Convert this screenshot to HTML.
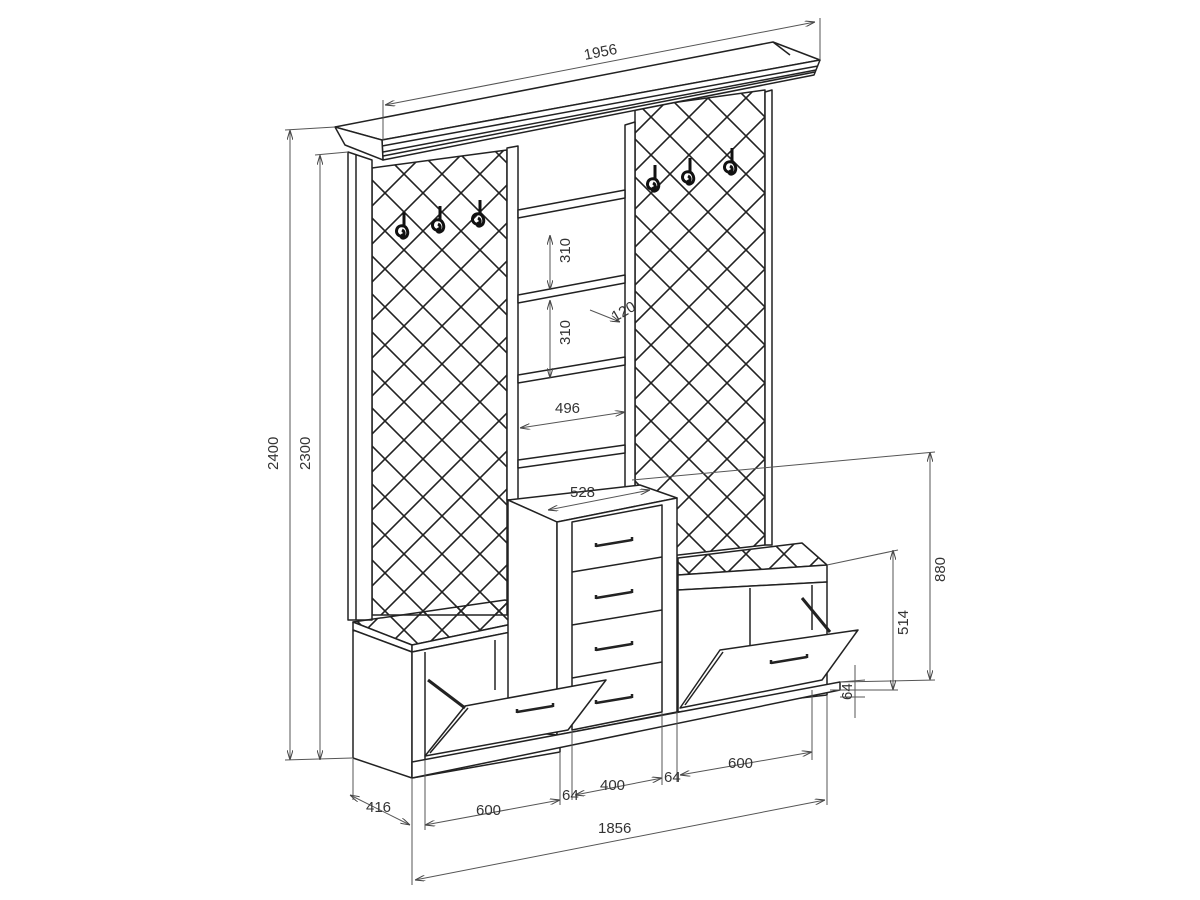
<!DOCTYPE html>
<html><head><style>body{margin:0;background:#fff}svg{display:block}text{font-family:"Liberation Sans",sans-serif;font-size:15px;fill:#333}</style></head><body>
<svg width="1200" height="900" viewBox="0 0 1200 900" xmlns="http://www.w3.org/2000/svg">
<defs>
<pattern id="lat" width="38" height="38" patternUnits="userSpaceOnUse" patternTransform="translate(5,3)">
<path d="M0 0L38 38M38 0L0 38" stroke="#222" stroke-width="1.6"/>
</pattern>
<marker id="a" markerWidth="10" markerHeight="6" refX="10" refY="3" orient="auto-start-reverse"><path d="M0 0L10 3L0 6" fill="none" stroke="#444" stroke-width="1"/></marker>
<g id="hook"><path d="M0 0v14 M0 14c-8 -2 -10 8 -4 10 c4 2 6 -4 2 -6 M0 14c4 2 6 10 0 12 c-4 1 -3 -4 0 -3" fill="none" stroke="#111" stroke-width="3"/></g>
</defs>
<g fill="none" stroke="#222" stroke-width="1.5" stroke-linejoin="round">
<!-- lattice panels -->
<polygon points="372,168 507,150 507,615 372,615" fill="url(#lat)"/>
<polygon points="635,108 765,90 765,545 635,560" fill="url(#lat)"/>
<!-- posts -->
<polygon points="348,152 372,160 372,620 348,620" fill="#fff"/>
<line x1="356" y1="155" x2="356" y2="620"/>
<polygon points="507,148 518,146 518,500 507,500" fill="#fff"/>
<polygon points="625,125 635,122 635,555 625,555" fill="#fff"/>
<polygon points="765,92 772,90 772,545 765,545" fill="#fff"/>
<!-- shelves -->
<g fill="#fff">
<polygon points="518,210 625,190 625,198 518,218"/>
<polygon points="518,295 625,275 625,283 518,303"/>
<polygon points="518,375 625,357 625,365 518,383"/>
<polygon points="518,460 625,445 625,453 518,468"/>
</g>
<!-- cornice -->
<polygon points="335,127 773,42 820,60 382,140" fill="#fff"/>
<polygon points="382,140 820,60 814,75 383,160" fill="#fff"/>
<line x1="382" y1="146" x2="818" y2="66"/><line x1="383" y1="152" x2="816" y2="70"/><line x1="383" y1="156" x2="815" y2="72"/>
<polygon points="335,127 382,140 383,160 345,145" fill="#fff"/>
<line x1="773" y1="42" x2="790" y2="55"/>
<!-- left bench -->
<polygon points="353,622 505,600 560,614 412,645" fill="url(#lat)"/>
<polygon points="353,622 412,645 412,652 353,630" fill="#fff"/>
<polygon points="412,645 560,614 560,622 412,652" fill="#fff"/>
<polygon points="353,630 412,652 412,778 353,758" fill="#fff"/>
<polygon points="412,652 560,622 560,752 412,778" fill="#fff"/>
<line x1="425" y1="652" x2="425" y2="760"/>
<line x1="495" y1="640" x2="495" y2="690"/>
<line x1="545" y1="628" x2="545" y2="690"/>
<!-- chest -->
<polygon points="508,500 640,485 677,498 557,522" fill="#fff"/>
<polygon points="508,500 557,522 557,735 508,730" fill="#fff"/>
<polygon points="557,522 677,498 677,712 557,735" fill="#fff"/>
<polygon points="572,522 662,505 662,712 572,730" fill="#fff"/>
<line x1="572" y1="572" x2="662" y2="557"/><line x1="572" y1="625" x2="662" y2="610"/><line x1="572" y1="678" x2="662" y2="662"/>
<!-- right bench -->
<polygon points="678,558 802,543 827,565 678,575" fill="url(#lat)"/>
<polygon points="678,575 827,565 827,582 678,590" fill="#fff"/>
<polygon points="678,590 827,582 827,695 678,712" fill="#fff"/>
<line x1="750" y1="588" x2="750" y2="645"/><line x1="812" y1="585" x2="812" y2="630"/>
<!-- plinth -->
<polygon points="412,762 840,682 840,690 412,778" fill="#fff"/>
<!-- flaps -->
<polygon points="425,756 465,706 606,680 568,730" fill="#fff"/>
<line x1="430" y1="753" x2="468" y2="708"/>
<line x1="428" y1="680" x2="465" y2="708" stroke-width="3"/>
<polygon points="680,708 720,650 858,630 822,680" fill="#fff"/>
<line x1="685" y1="705" x2="723" y2="652"/>
<line x1="802" y1="598" x2="830" y2="632" stroke-width="3"/>
<!-- handles -->
<g stroke-width="2.5">
<path d="M596 546l36 -6 M596 543v4 M632 537v4"/>
<path d="M596 598l36 -6 M596 595v4 M632 589v4"/>
<path d="M596 650l36 -6 M596 647v4 M632 641v4"/>
<path d="M596 703l36 -6 M596 700v4 M632 694v4"/>
<path d="M517 712l36 -6 M517 709v4 M553 703v4"/>
<path d="M771 663l36 -6 M771 660v4 M807 654v4"/>
</g>
</g>
<!-- hooks -->
<use href="#hook" x="404" y="212"/><use href="#hook" x="440" y="206"/><use href="#hook" x="480" y="200"/>
<use href="#hook" x="655" y="165"/><use href="#hook" x="690" y="158"/><use href="#hook" x="732" y="148"/>
<!-- dimensions -->
<g stroke="#555" stroke-width="1" fill="none">
<line x1="385" y1="105" x2="815" y2="22" marker-start="url(#a)" marker-end="url(#a)"/>
<line x1="383" y1="140" x2="383" y2="100"/><line x1="820" y1="60" x2="820" y2="18"/>
<line x1="290" y1="130" x2="290" y2="760" marker-start="url(#a)" marker-end="url(#a)"/>
<line x1="285" y1="130" x2="335" y2="127"/><line x1="285" y1="760" x2="352" y2="758"/>
<line x1="320" y1="155" x2="320" y2="760" marker-start="url(#a)" marker-end="url(#a)"/>
<line x1="315" y1="155" x2="348" y2="152"/>
<line x1="930" y1="452" x2="930" y2="680" marker-start="url(#a)" marker-end="url(#a)"/>
<line x1="632" y1="480" x2="935" y2="452"/><line x1="840" y1="682" x2="935" y2="680"/>
<line x1="893" y1="550" x2="893" y2="690" marker-start="url(#a)" marker-end="url(#a)"/>
<line x1="827" y1="565" x2="898" y2="550"/><line x1="830" y1="690" x2="898" y2="690"/>
<line x1="855" y1="665" x2="855" y2="718"/><line x1="840" y1="682" x2="865" y2="680"/><line x1="840" y1="697" x2="865" y2="697"/>
<line x1="550" y1="235" x2="550" y2="290" marker-start="url(#a)" marker-end="url(#a)"/>
<line x1="550" y1="300" x2="550" y2="378" marker-start="url(#a)" marker-end="url(#a)"/>
<line x1="520" y1="428" x2="625" y2="412" marker-start="url(#a)" marker-end="url(#a)"/>
<line x1="590" y1="310" x2="620" y2="322" marker-end="url(#a)"/>
<line x1="548" y1="510" x2="650" y2="490" marker-start="url(#a)" marker-end="url(#a)"/>
<line x1="425" y1="825" x2="560" y2="800" marker-start="url(#a)" marker-end="url(#a)"/>
<line x1="575" y1="795" x2="662" y2="778" marker-start="url(#a)" marker-end="url(#a)"/>
<line x1="680" y1="775" x2="812" y2="752" marker-start="url(#a)" marker-end="url(#a)"/>
<line x1="415" y1="880" x2="825" y2="800" marker-start="url(#a)" marker-end="url(#a)"/>
<line x1="350" y1="795" x2="410" y2="825" marker-start="url(#a)" marker-end="url(#a)"/>
<line x1="412" y1="778" x2="412" y2="885"/><line x1="425" y1="760" x2="425" y2="830"/>
<line x1="560" y1="752" x2="560" y2="805"/><line x1="572" y1="730" x2="572" y2="800"/>
<line x1="662" y1="712" x2="662" y2="785"/><line x1="677" y1="712" x2="677" y2="782"/>
<line x1="812" y1="690" x2="812" y2="760"/><line x1="827" y1="695" x2="827" y2="805"/>
<line x1="353" y1="758" x2="353" y2="800"/>
</g>
<g>
<text x="585" y="60" transform="rotate(-11 585 60)">1956</text>
<text x="278" y="470" transform="rotate(-90 278 470)">2400</text>
<text x="310" y="470" transform="rotate(-90 310 470)">2300</text>
<text x="945" y="582" transform="rotate(-90 945 582)">880</text>
<text x="908" y="635" transform="rotate(-90 908 635)">514</text>
<text x="852" y="700" font-size="11" transform="rotate(-90 852 700)">64</text>
<text x="570" y="263" transform="rotate(-90 570 263)">310</text>
<text x="570" y="345" transform="rotate(-90 570 345)">310</text>
<text x="555" y="413">496</text>
<text x="570" y="497">528</text>
<text x="615" y="322" font-size="10" transform="rotate(-30 615 322)">120</text>
<text x="476" y="815">600</text>
<text x="600" y="790">400</text>
<text x="728" y="768">600</text>
<text x="598" y="833">1856</text>
<text x="366" y="812">416</text>
<text x="562" y="800" font-size="10">64</text>
<text x="664" y="782" font-size="10">64</text>
</g>
</svg>
</body></html>
